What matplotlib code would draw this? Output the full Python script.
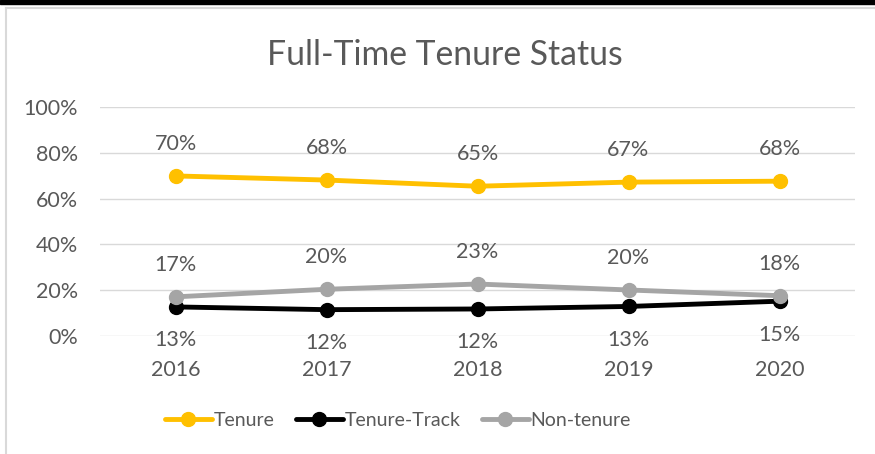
import numpy as np
import matplotlib.pyplot as plt
from matplotlib.lines import Line2D
from matplotlib.patches import Rectangle

plt.rcParams['font.family'] = ['Lato', 'DejaVu Sans']

years = ["2016", "2017", "2018", "2019", "2020"]
tenure = [69.9, 68.1, 65.4, 67.2, 67.6]
tenure_track = [12.7, 11.5, 11.8, 12.9, 15.2]
non_tenure = [17.1, 20.4, 22.7, 20.1, 17.6]

txt = "#595959"
fig = plt.figure(figsize=(8.75, 4.54), dpi=100)
ax = fig.add_axes([100/875, 1-336/454, 755/875, 229/454])

x = np.arange(len(years))
series = [
    ("Tenure", tenure, "#FFC000", 23),
    ("Tenure-Track", tenure_track, "#000000", -24),
    ("Non-tenure", non_tenure, "#A5A5A5", 23),
]
for name, vals, col, off in series:
    ax.plot(x, vals, color=col, lw=3.5, marker="o", ms=10, label=name,
            solid_capstyle="round")
    for xi, v in zip(x, vals):
        ax.annotate("%.0f%%" % v, (xi, v), xytext=(0, off), textcoords="offset points",
                    ha="center", va="center", fontsize=15.5, color=txt)

ax.set_xlim(-0.5, 4.5)
ax.set_ylim(0, 100)
ax.set_yticks(np.arange(0, 101, 20))
ax.set_yticklabels(["%d%%" % v for v in range(0, 101, 20)])
ax.set_xticks(x)
ax.set_xticklabels(years)
ax.tick_params(length=0, labelsize=15.5, labelcolor=txt)
ax.tick_params(axis="y", pad=16)
ax.tick_params(axis="x", pad=17)
ax.grid(axis="y", color="#D9D9D9", lw=1)
ax.set_axisbelow(True)
for s in ax.spines.values():
    s.set_visible(False)

fig.text(445/875, 1-55/454, "Full-Time Tenure Status", ha="center", va="center",
         fontsize=24.3, color=txt)

leg = fig.legend(loc="center", bbox_to_anchor=(398/875, 1-420/454), ncol=3, frameon=False,
                 fontsize=14, handlelength=2.4, handletextpad=0.1, columnspacing=1.1,
                 labelcolor=txt)

# chart frame
fig.add_artist(Line2D([6/875, 6/875], [0, 1-8/454], color="#D9D9D9", lw=1.5,
                      transform=fig.transFigure))
fig.add_artist(Line2D([6/875, 1], [1-8/454, 1-8/454], color="#D9D9D9", lw=1.5,
                      transform=fig.transFigure))
fig.add_artist(Rectangle((0, 1-3.5/454), 1, 3.5/454, color="black",
                         transform=fig.transFigure))

fig.savefig("out.png", dpi=100)
